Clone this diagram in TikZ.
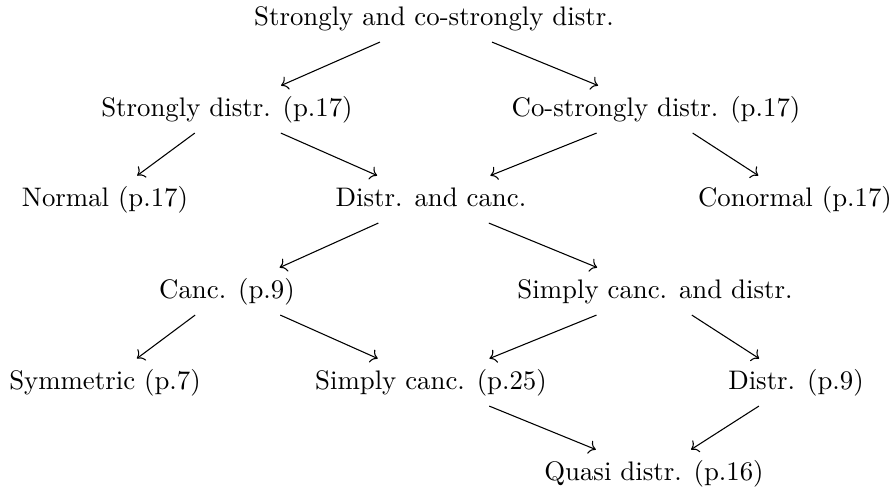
\documentclass[tikz,border=0pt]{standalone}
\usetikzlibrary{arrows.meta}
\begin{document}
\begin{tikzpicture}[x=0.373pt,y=-0.373pt,
  lbl/.style={anchor=base,inner xsep=1ex,inner ysep=0.85ex,text height=7.5pt,text depth=2.5pt},
  arr/.style={-{Computer Modern Rightarrow},line width=0.4pt}]
\useasboundingbox (0,0) rectangle (893,489);
\node[lbl] (top)  at (434,25)  {Strongly and co-strongly distr.};
\node[lbl] (sd)   at (227,116) {Strongly distr. (p.17)};
\node[lbl] (csd)  at (656,116) {Co-strongly distr. (p.17)};
\node[lbl] (nor)  at (105,206) {Normal (p.17)};
\node[lbl] (dc)   at (431,206) {Distr. and canc.};
\node[lbl] (con)  at (795,206) {Conormal (p.17)};
\node[lbl] (canc) at (227,298) {Canc. (p.9)};
\node[lbl] (scd)  at (655,298) {Simply canc. and distr.};
\node[lbl] (sym)  at (105,389) {Symmetric (p.7)};
\node[lbl] (sc)   at (431,389) {Simply canc. (p.25)};
\node[lbl] (dis)  at (796,389) {Distr. (p.9)};
\node[lbl] (qd)   at (654,480) {Quasi distr. (p.16)};
\draw[arr] (top) -- (sd);
\draw[arr] (top) -- (csd);
\draw[arr] (sd) -- (nor);
\draw[arr] (sd) -- (dc);
\draw[arr] (csd) -- (dc);
\draw[arr] (csd) -- (con);
\draw[arr] (dc) -- (canc);
\draw[arr] (dc) -- (scd);
\draw[arr] (canc) -- (sym);
\draw[arr] (canc) -- (sc);
\draw[arr] (scd) -- (sc);
\draw[arr] (scd) -- (dis);
\draw[arr] (sc) -- (qd);
\draw[arr] (dis) -- (qd);
\end{tikzpicture}
\end{document}
